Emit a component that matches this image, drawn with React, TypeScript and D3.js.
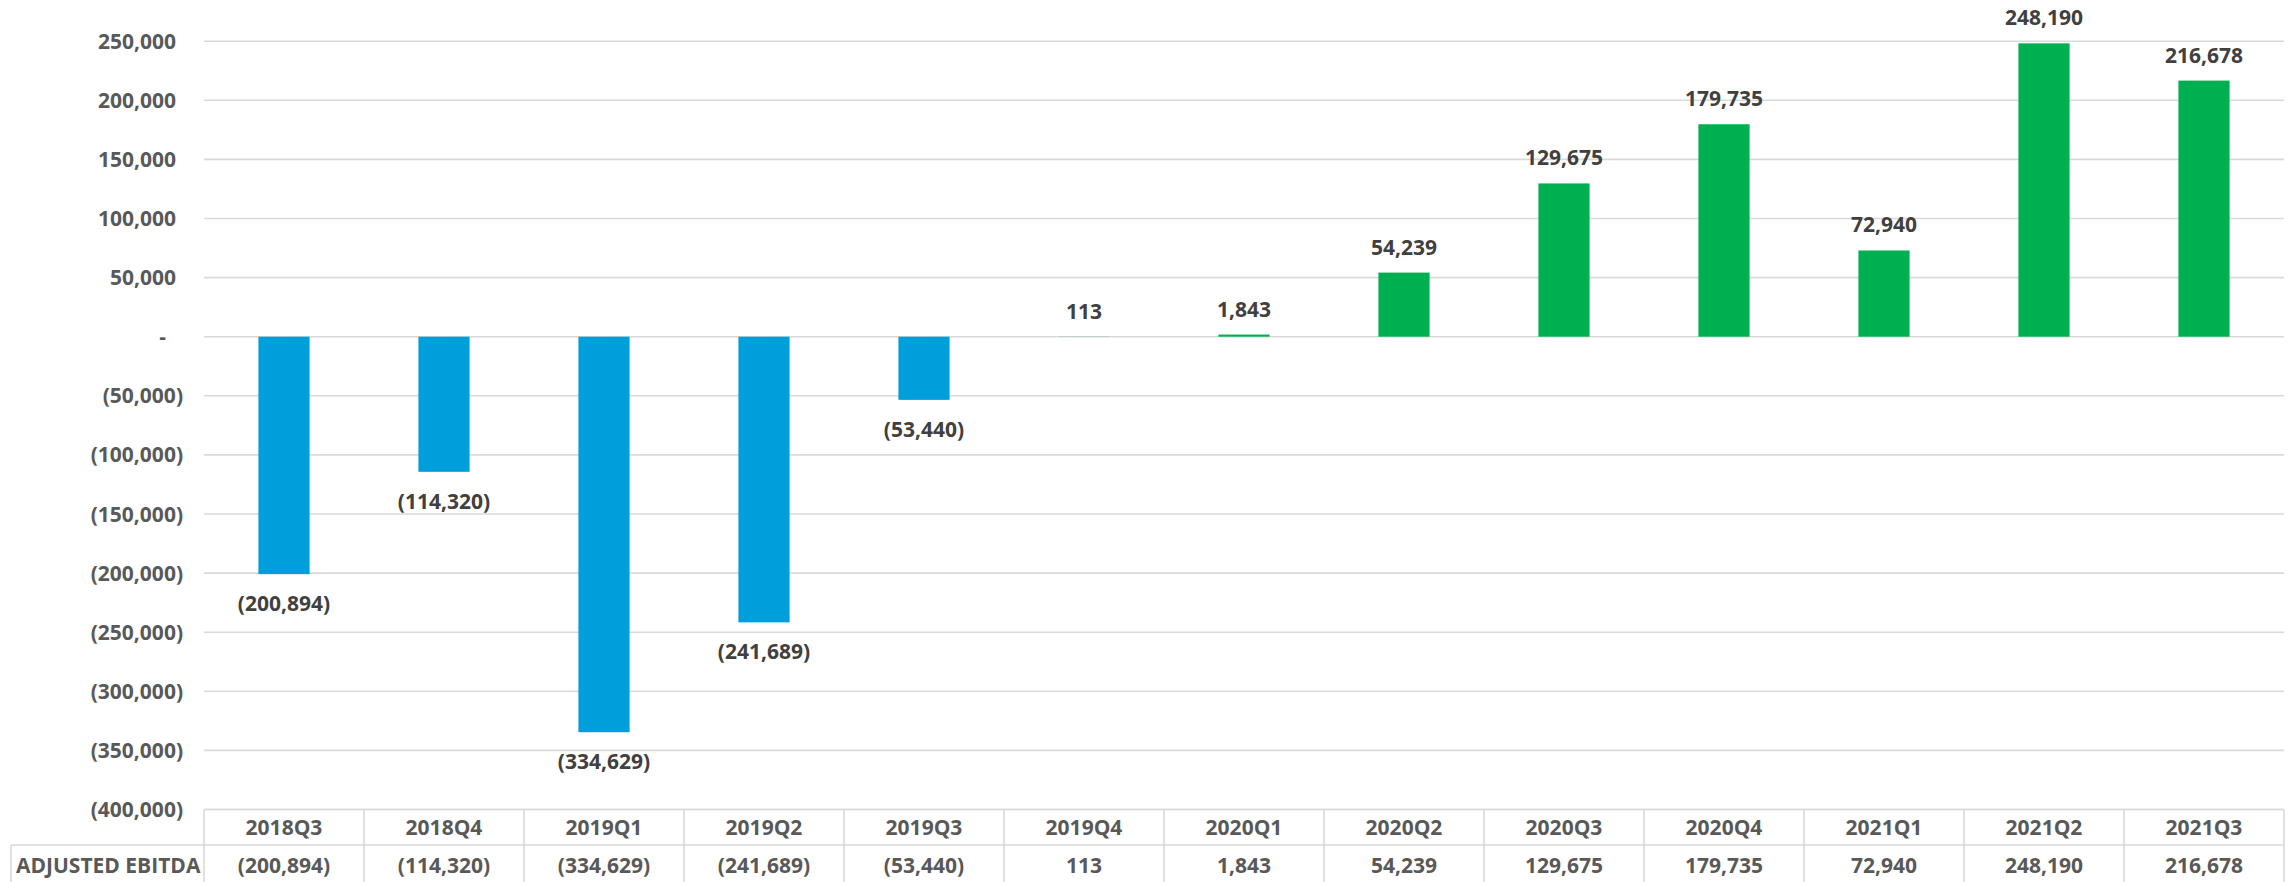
import React from "react";
import * as d3 from "d3";

const categories = ["2018Q3", "2018Q4", "2019Q1", "2019Q2", "2019Q3", "2019Q4", "2020Q1", "2020Q2", "2020Q3", "2020Q4", "2021Q1", "2021Q2", "2021Q3"];
const ebitda = [-200894, -114320, -334629, -241689, -53440, 113, 1843, 54239, 129675, 179735, 72940, 248190, 216678];
const yTicks = [250000, 200000, 150000, 100000, 50000, 0, -50000, -100000, -150000, -200000, -250000, -300000, -350000, -400000];
const seriesName = "ADJUSTED EBITDA";

const W = 2293;
const H = 882;
const plotLeft = 204;
const plotRight = 2284;
const yTop = 41.2;
const yBottom = 809.5;
const font = "'Open Sans', 'Liberation Sans', sans-serif";
const axisColor = "#595959";
const labelColor = "#404040";
const gridColor = "#d9d9d9";
const blue = "#009FDB";
const green = "#00B050";

const fmt = d3.format(",");
const acct = (v: number) => (v < 0 ? `(${fmt(-v)})` : fmt(v));

export default function App() {
  const x = d3.scaleBand<string>().domain(categories).range([plotLeft, plotRight]).paddingInner(0.68).paddingOuter(0.34);
  const cell = d3.scaleBand<string>().domain(categories).range([plotLeft, plotRight]).padding(0);
  const y = d3.scaleLinear().domain([-400000, 250000]).range([yBottom, yTop]);
  const y0 = y(0);
  const row1Top = yBottom;
  const row2Top = 845;
  const rowBottom = 884;

  return (
    <svg width={W} height={H} style={{ position: "absolute", left: 0, top: 0, background: "#fff" }} fontFamily={font} fontWeight={700} fontSize={21}>
      {/* gridlines */}
      {yTicks.map((t) => (
        <line key={"g" + t} x1={plotLeft} x2={plotRight} y1={y(t)} y2={y(t)} stroke={gridColor} strokeWidth={1.6} />
      ))}
      {/* y tick labels */}
      {yTicks.map((t) => (
        <text
          key={"t" + t}
          x={t < 0 ? plotLeft - 21 : t === 0 ? plotLeft - 38 : plotLeft - 28}
          y={y(t)}
          dy="0.36em"
          textAnchor="end"
          fill={axisColor}
        >
          {t === 0 ? "-" : acct(t)}
        </text>
      ))}
      {/* bars */}
      {categories.map((c, i) => {
        const v = ebitda[i];
        const yv = y(v);
        return (
          <rect
            key={"b" + c}
            x={x(c)}
            width={x.bandwidth()}
            y={Math.min(yv, y0)}
            height={Math.abs(yv - y0)}
            fill={v < 0 ? blue : green}
          />
        );
      })}
      {/* data labels */}
      {categories.map((c, i) => {
        const v = ebitda[i];
        const cx = (x(c) as number) + x.bandwidth() / 2;
        const yy = v < 0 ? y(v) + 37 : y(v) - 18;
        return (
          <text key={"l" + c} x={cx} y={yy} textAnchor="middle" fill={labelColor}>
            {acct(v)}
          </text>
        );
      })}
      {/* data table */}
      <g stroke={gridColor} strokeWidth={1.6}>
        <line x1={plotLeft} x2={plotRight} y1={row1Top} y2={row1Top} />
        <line x1={11} x2={plotRight} y1={row2Top} y2={row2Top} />
        <line x1={11} x2={plotRight} y1={rowBottom} y2={rowBottom} />
        <line x1={11} x2={11} y1={row2Top} y2={rowBottom} />
        {categories.map((c) => (
          <line key={"v" + c} x1={cell(c)} x2={cell(c)} y1={row1Top} y2={rowBottom} />
        ))}
        <line x1={plotRight} x2={plotRight} y1={row1Top} y2={rowBottom} />
      </g>
      {categories.map((c) => (
        <text key={"h" + c} x={(cell(c) as number) + cell.bandwidth() / 2} y={(row1Top + row2Top) / 2} dy="0.36em" textAnchor="middle" fill={axisColor}>
          {c}
        </text>
      ))}
      {categories.map((c, i) => (
        <text key={"d" + c} x={(cell(c) as number) + cell.bandwidth() / 2} y={865} dy="0.36em" textAnchor="middle" fill={axisColor}>
          {acct(ebitda[i])}
        </text>
      ))}
      <text x={16} y={865} dy="0.36em" textAnchor="start" fill={axisColor}>
        {seriesName}
      </text>
    </svg>
  );
}
